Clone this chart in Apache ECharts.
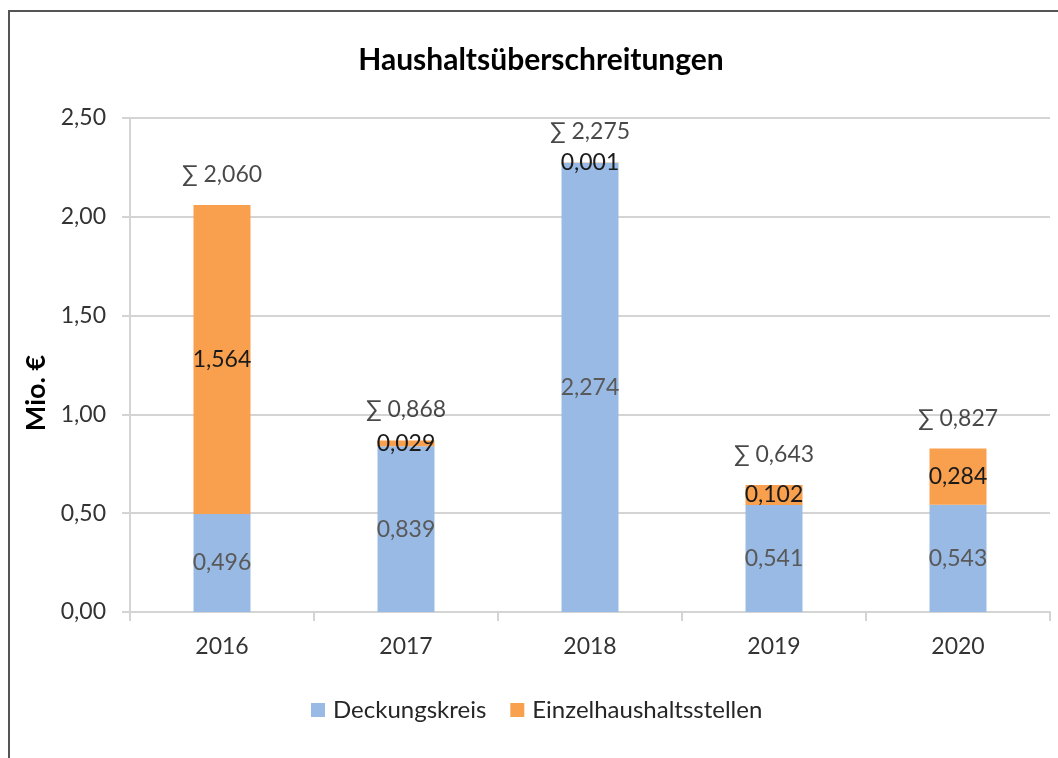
<!DOCTYPE html>
<html>
<head>
<meta charset="utf-8">
<script src="https://cdn.jsdelivr.net/npm/echarts@6/dist/echarts.min.js"></script>
<style>
  html, body { margin: 0; padding: 0; background: #fff; }
  #chart { width: 1058px; height: 758px; }
</style>
</head>
<body>
<div id="chart"></div>
<script>
// Daten (Mio. €)
const years = ['2016', '2017', '2018', '2019', '2020']
const deckungskreis = [0.496, 0.839, 2.274, 0.541, 0.543]
const einzelstellen = [1.564, 0.029, 0.001, 0.102, 0.284]
const summen = [2.060, 0.868, 2.275, 0.643, 0.827]

const FONT = 'Lato, "Open Sans", sans-serif'
const deNum = (v, d) => v.toFixed(d).replace('.', ',')

const myChart = echarts.init(document.getElementById('chart'))

const option = {
  animation: false,
  color: ['#99BAE4', '#F9A04E'],
  textStyle: { fontFamily: FONT },
  title: {
    text: 'Haushaltsüberschreitungen',
    left: 536,
    top: 40,
    textAlign: 'center',
    textStyle: { fontSize: 30, fontWeight: 'bold', color: '#000', fontFamily: FONT }
  },
  graphic: [
    {
      // Rahmen
      type: 'rect',
      shape: { x: 9, y: 11, width: 1200, height: 900 },
      style: { fill: 'none', stroke: '#555', lineWidth: 2 },
      silent: true
    }
  ],
  legend: {
    data: ['Deckungskreis', 'Einzelhaushaltsstellen'],
    left: 306,
    top: 693,
    itemWidth: 14,
    itemHeight: 14,
    itemGap: 24,
    icon: 'rect',
    textStyle: { fontSize: 24, color: '#262626', fontFamily: FONT, padding: [0, 0, 0, 3] }
  },
  grid: {
    left: 130,
    right: 8,
    top: 118,
    bottom: 146
  },
  xAxis: {
    type: 'category',
    data: years,
    axisLine: { lineStyle: { color: '#D4D4D4', width: 2 } },
    axisTick: { show: true, length: 9, lineStyle: { color: '#D4D4D4', width: 2 } },
    axisLabel: { fontSize: 23, color: '#333', margin: 23, fontFamily: FONT }
  },
  yAxis: {
    type: 'value',
    min: 0,
    max: 2.5,
    interval: 0.5,
    name: 'Mio. €',
    nameLocation: 'middle',
    nameRotate: 90,
    nameGap: 80,
    nameTextStyle: { fontSize: 27, fontWeight: 'bold', color: '#000', padding: [0, 56, 0, 0], fontFamily: FONT },
    axisLine: { show: true, lineStyle: { color: '#D4D4D4', width: 2 } },
    axisTick: { show: true, length: 8, lineStyle: { color: '#D4D4D4', width: 2 } },
    axisLabel: {
      fontSize: 23,
      color: '#333',
      margin: 24,
      fontFamily: FONT,
      formatter: v => deNum(v, 2)
    },
    splitLine: { lineStyle: { color: '#D4D4D4', width: 2 } }
  },
  series: [
    {
      name: 'Deckungskreis',
      type: 'bar',
      stack: 'gesamt',
      barWidth: 57,
      data: deckungskreis,
      label: {
        show: true,
        position: 'inside',
        fontSize: 23,
        color: '#595959',
        fontFamily: FONT,
        formatter: p => deNum(p.value, 3)
      }
    },
    {
      name: 'Einzelhaushaltsstellen',
      type: 'bar',
      stack: 'gesamt',
      barWidth: 57,
      data: einzelstellen,
      label: {
        show: true,
        position: 'inside',
        fontSize: 23,
        color: '#1a1a1a',
        fontFamily: FONT,
        formatter: p => deNum(p.value, 3)
      }
    },
    {
      // Summenbeschriftung
      name: 'Summe',
      type: 'scatter',
      symbolSize: 0,
      data: summen,
      silent: true,
      label: {
        show: true,
        position: 'top',
        distance: 19,
        fontSize: 23,
        color: '#1a1a1a',
        fontFamily: FONT,
        formatter: p => '∑ ' + deNum(p.value, 3)
      }
    }
  ]
}

myChart.setOption(option)
</script>
</body>
</html>
